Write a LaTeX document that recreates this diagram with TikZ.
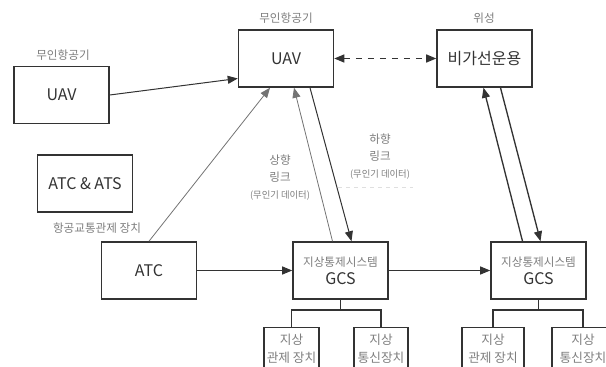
\documentclass[tikz,border=0pt]{standalone}
\usepackage{fontspec}
\setmainfont{Noto Sans CJK KR}
\usepackage{tikz}
\usetikzlibrary{arrows.meta, positioning, calc}
\definecolor{boxline}{RGB}{51, 51, 51}
\definecolor{lblgray}{RGB}{125, 125, 125}
\definecolor{linkgray}{RGB}{115, 115, 115}

\begin{document}
\begin{tikzpicture}[x=0.75pt, y=-0.75pt,
  sysbox/.style={draw=boxline, line width=1.1pt, minimum width=71.3pt, minimum height=42.8pt, align=center, inner sep=2pt, text=boxline, font=\fontsize{12}{13.5}\selectfont},
  subbox/.style={draw=boxline, line width=1.1pt, minimum height=31.5pt, anchor=north, align=center, inner sep=1pt, text=lblgray, font=\fontsize{9.5}{13.5}\selectfont},
  lbltext/.style={text=lblgray, font=\fontsize{8.7}{12.75}\selectfont, inner sep=0pt, align=center},
  arr/.style={-{Stealth[inset=0pt, length=7.5pt, width=6pt]}, line width=0.75pt, draw=boxline},
  tree/.style={draw=boxline, line width=1.1pt}
]
  \useasboundingbox (0,0) rectangle (606,367);
  \clip (0,0) rectangle (606,367);

  % Boxes
  \node[sysbox] (uavl) at (61.5, 95) {UAV};
  \node[sysbox] (uavt) at (286, 58.5) {UAV};
  \node[sysbox] (sat) at (484.5, 58.5) {비가선운용};
  \node[sysbox] (atcs) at (85, 183.5) {ATC \& ATS};
  \node[sysbox] (atc) at (149, 270.5) {ATC};
  \node[sysbox] (gcs1) at (340.5, 270.5) {{\color{lblgray}\fontsize{8.7}{11}\selectfont 지상통제시스템}\\GCS};
  \node[sysbox] (gcs2) at (538.5, 270.5) {{\color{lblgray}\fontsize{8.7}{11}\selectfont 지상통제시스템}\\GCS};

  % Ground equipment
  \node[subbox, minimum width=41.3pt] (g1a) at (291.5, 327) {지상\\관제 장치};
  \node[subbox, minimum width=40.5pt] (g1b) at (381, 327) {지상\\통신장치};
  \node[subbox, minimum width=46.5pt] (g2a) at (493, 327) {지상\\관제 장치};
  \node[subbox, minimum width=46.5pt] (g2b) at (583, 327) {지상\\통신장치};

  \draw[tree] (gcs1.south) -- ++(0, 10) -| (g1a.north);
  \draw[tree] (gcs1.south) -- ++(0, 10) -| (g1b.north);
  \draw[tree] (gcs2.south) -- ++(0, 10) -| (g2a.north);
  \draw[tree] (gcs2.south) -- ++(0, 10) -| (g2b.north);

  % Captions
  \node[lbltext] (uavllbl) at (63, 55) {무인항공기};
  \node[lbltext] (uavtlbl) at (286, 18) {무인항공기};
  \node[lbltext] (satlbl) at (484, 18) {위성};
  \node[lbltext] (atclbl) at (97, 228) {항공교통관제 장치};
  \node[lbltext] (uplbl) at (280, 178) {상향\\링크\\{\fontsize{7}{9}\selectfont (무인기 데이터)}};
  \node[lbltext] (dnlbl) at (380, 157) {하향\\링크\\{\fontsize{7}{9}\selectfont (무인기 데이터)}};
  \draw[gray!25, dashed, line width=0.5pt] (338, 187) -- (413, 187);

  % Arrows
  \draw[arr] (uavl.east) -- ($(uavt.west)+(0, 20)$);
  \draw[arr, draw=linkgray, line width=0.6pt] (atc.north) -- ($(uavt.south)+(-16, 0)$);
  \draw[arr, draw=linkgray, line width=0.6pt] ($(gcs1.north)+(-8, 0)$) -- ($(uavt.south)+(8, 0)$);
  \draw[arr] ($(uavt.south)+(24, 0)$) -- ($(gcs1.north)+(11, 0)$);
  \draw[arr, line width=1pt] ($(gcs2.north)+(-16, 0)$) -- ($(sat.south)+(-1, 0)$);
  \draw[arr, line width=1pt] ($(sat.south)+(16, 0)$) -- ($(gcs2.north)+(2, 0)$);
  \draw[arr] (atc.east) -- (gcs1.west);
  \draw[arr] (gcs1.east) -- (gcs2.west);
  \draw[arr, {Stealth[inset=0pt, length=7.5pt, width=6pt]}-{Stealth[inset=0pt, length=7.5pt, width=6pt]}, dashed, dash pattern=on 4.5pt off 4.5pt, line width=1pt] (uavt.east) -- (sat.west);
\end{tikzpicture}
\end{document}
